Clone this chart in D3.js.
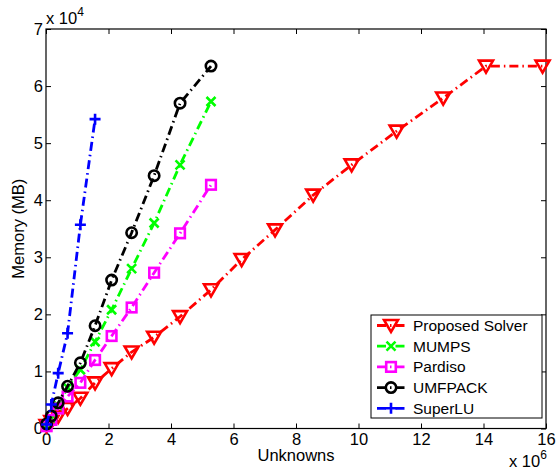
<!DOCTYPE html>
<html>
<head>
<meta charset="utf-8">
<script src="https://cdn.jsdelivr.net/npm/d3@7"></script>
<style>
  body { margin: 0; background: #fff; }
  text { font-family: "Liberation Sans", Arial, sans-serif; fill: #000; }
</style>
</head>
<body>
<script>
// unknowns (x 10^6) and memory (x 10^4 MB)
var gridX   = [0.02, 0.17, 0.39, 0.69, 1.1, 1.57, 2.1, 2.74, 3.46, 4.29, 5.28];
var propX   = gridX.concat([6.26, 7.33, 8.55, 9.78, 11.22, 12.71, 14.08, 15.89]);
var propY   = [0.05, 0.12, 0.21, 0.35, 0.53, 0.8, 1.05, 1.34, 1.6, 1.96, 2.43,
               2.96, 3.48, 4.09, 4.62, 5.21, 5.79, 6.35, 6.35];
var mumpsY  = [0.05, 0.18, 0.4, 0.72, 1.03, 1.52, 2.08, 2.8, 3.6, 4.62, 5.73];
var pardY   = [0.04, 0.15, 0.35, 0.56, 0.8, 1.2, 1.62, 2.12, 2.73, 3.42, 4.27];
var umfY    = [0.08, 0.22, 0.45, 0.74, 1.15, 1.8, 2.6, 3.43, 4.43, 5.7, 6.35];
var superX  = gridX.slice(0, 6);
var superY  = [0.07, 0.42, 0.97, 1.67, 3.57, 5.42];

var names   = ["Proposed Solver", "MUMPS", "Pardiso", "UMFPACK", "SuperLU"];
var colors  = ["#ff0000", "#00ff00", "#ff00ff", "#000000", "#0000ff"];
var markers = ["tri", "x", "square", "circle", "plus"];
var xTicks  = [0, 2, 4, 6, 8, 10, 12, 14, 16];
var yTicks  = [0, 1, 2, 3, 4, 5, 6, 7];

var series = [
  {x: propX, y: propY},
  {x: gridX, y: mumpsY},
  {x: gridX, y: pardY},
  {x: gridX, y: umfY},
  {x: superX, y: superY}
].map(function(s, i) {
  return {name: names[i], color: colors[i], marker: markers[i],
          pts: s.x.map(function(v, j) { return [v, s.y[j]]; })};
});

var W = 558, H = 469;
var margin = {top: 29, right: 12, bottom: 40.5, left: 46};
var width = W - margin.left - margin.right,
    height = H - margin.top - margin.bottom;

var svg = d3.select("body").append("svg")
    .attr("width", W).attr("height", H);
var g = svg.append("g")
    .attr("transform", "translate(" + margin.left + "," + margin.top + ")");

var x = d3.scaleLinear().domain([0, 16]).range([0, width]);
var y = d3.scaleLinear().domain([0, 7]).range([height, 0]);

// axes, MATLAB style: ticks inside, box all round
function styleAxis(sel) {
  sel.select(".domain").remove();
  sel.selectAll("line").attr("stroke", "#000");
  sel.selectAll("text").style("font-size", "16.5px");
}
g.append("g").attr("transform", "translate(0," + height + ")")
  .call(d3.axisBottom(x).tickValues(xTicks).tickSize(-5).tickPadding(4.5)).call(styleAxis);
g.append("g")
  .call(d3.axisLeft(y).tickValues(yTicks).tickSize(-5).tickPadding(3).tickFormat(d3.format("d"))).call(styleAxis);
g.append("g")
  .call(d3.axisTop(x).tickValues(xTicks).tickSize(-5).tickFormat("")).call(styleAxis);
g.append("g").attr("transform", "translate(" + width + ",0)")
  .call(d3.axisRight(y).tickValues(yTicks).tickSize(-5).tickFormat("")).call(styleAxis);
g.append("rect").attr("width", width).attr("height", height)
  .attr("fill", "none").attr("stroke", "#000").attr("stroke-width", 1.2);

// markers
function drawMarker(sel, type, color) {
  var m;
  if (type === "tri") {
    m = sel.append("path").attr("d", "M-7,-5.5L7,-5.5L0,6.5Z");
  } else if (type === "x") {
    m = sel.append("path").attr("d", "M-4.5,-4.5L4.5,4.5M-4.5,4.5L4.5,-4.5");
  } else if (type === "square") {
    m = sel.append("rect").attr("x", -4.8).attr("y", -4.8).attr("width", 9.6).attr("height", 9.6);
  } else if (type === "circle") {
    m = sel.append("circle").attr("r", 5.2);
  } else {
    m = sel.append("path").attr("d", "M-5.5,0L5.5,0M0,-5.5L0,5.5");
  }
  m.attr("fill", "none").attr("stroke", color).attr("stroke-width", 2.6);
}

var line = d3.line()
    .x(function(d) { return x(d[0]); })
    .y(function(d) { return y(d[1]); });

series.forEach(function(s) {
  var sg = g.append("g");
  sg.append("path").datum(s.pts)
    .attr("d", line)
    .attr("fill", "none")
    .attr("stroke", s.color)
    .attr("stroke-width", 2.8)
    .attr("stroke-dasharray", "9,4,1.5,4");
  sg.selectAll(".pt").data(s.pts).enter().append("g")
    .attr("transform", function(d) { return "translate(" + x(d[0]) + "," + y(d[1]) + ")"; })
    .each(function() { drawMarker(d3.select(this), s.marker, s.color); });
});

// exponent labels
var e4 = svg.append("text").attr("x", 46).attr("y", 24).style("font-size", "16.5px");
e4.append("tspan").text("x 10");
e4.append("tspan").attr("dy", -8).style("font-size", "12px").text("4");
var e6 = svg.append("text").attr("x", 509).attr("y", 467).style("font-size", "16.5px");
e6.append("tspan").text("x 10");
e6.append("tspan").attr("dy", -8).style("font-size", "12px").text("6");

// axis titles
svg.append("text").attr("x", margin.left + width / 2).attr("y", 461)
  .attr("text-anchor", "middle").style("font-size", "16.5px").text("Unknowns");
svg.append("text").attr("transform", "translate(24," + (margin.top + height / 2) + ") rotate(-90)")
  .attr("text-anchor", "middle").style("font-size", "16.5px").text("Memory (MB)");

// legend
var lg = svg.append("g").attr("transform", "translate(371,315)");
lg.append("rect").attr("width", 171).attr("height", 103)
  .attr("fill", "#fff").attr("stroke", "#000").attr("stroke-width", 1);
series.forEach(function(s, i) {
  var row = lg.append("g").attr("transform", "translate(0," + (10.5 + i * 20.7) + ")");
  row.append("line").attr("x1", 6).attr("x2", 34)
    .attr("stroke", s.color).attr("stroke-width", 2.8)
    .attr("stroke-dasharray", "9,4,1.5,4");
  var mk = row.append("g").attr("transform", "translate(20,0)");
  drawMarker(mk, s.marker, s.color);
  row.append("text").attr("x", 42).attr("y", 5.5)
    .style("font-size", "15.5px").text(s.name);
});
</script>
</body>
</html>
